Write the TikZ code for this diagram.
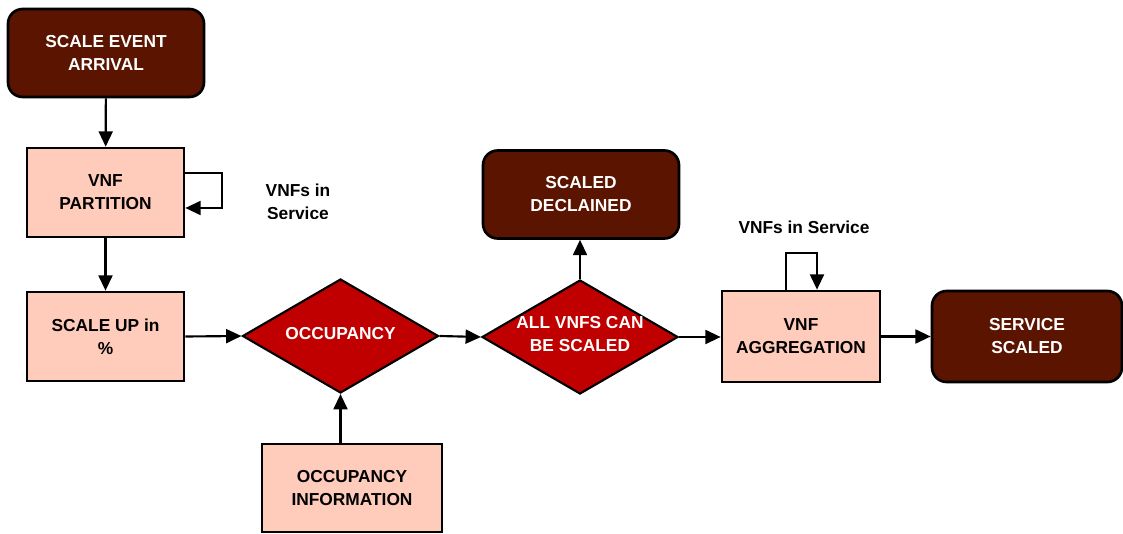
\documentclass[tikz,border=0pt]{standalone}
\usepackage{fontspec}
\setmainfont{Liberation Sans}
\usetikzlibrary{arrows.meta,shapes.geometric}
\definecolor{darkbrown}{HTML}{5A1400}
\definecolor{lightsalmon}{HTML}{FFCBBB}
\definecolor{decred}{HTML}{C00000}
\begin{document}
\begin{tikzpicture}[x=0.75pt,y=-0.75pt,
  every node/.style={font=\fontsize{13pt}{17.25pt}\selectfont\bfseries, align=center},
  terminal/.style={draw=black, line width=2pt, fill=darkbrown, text=white,
    rounded corners=11pt, minimum width=147pt, minimum height=66pt, inner sep=0pt},
  process/.style={draw=black, line width=2pt, fill=lightsalmon, text=black,
    minimum width=117.75pt, minimum height=66.75pt, inner sep=0pt},
  decision/.style={draw=black, line width=1.6pt, fill=decred, diamond, aspect=1.72,
    minimum width=147pt, minimum height=85.5pt, inner sep=0pt},
  flow/.style={draw=black, line width=1.6pt, -{Triangle[length=11.5pt,width=10.5pt]}},
  note/.style={text=black}
]
\useasboundingbox (0,0) rectangle (1123,534);

% nodes
\node[terminal] (start) at (106,53) {SCALE EVENT\\ARRIVAL};
\node[process] (part) at (105.5,192.5) {VNF\\PARTITION};
\node[process] (up) at (105.5,336.5) {SCALE UP in\\\%};
\node[decision,
  label={[text=white,yshift=2pt]center:OCCUPANCY}] (occ) at (340.5,336) {};
\node[process, minimum width=135pt, minimum height=66pt] (info) at (352,488) {OCCUPANCY\\INFORMATION};
\node[decision,
  label={[text=white,yshift=2.5pt]center:ALL VNFS CAN\\BE SCALED}] (all) at (580,337) {};
\node[terminal] (decl) at (581,194.5) {SCALED\\DECLAINED};
\node[process, minimum width=118.5pt, minimum height=68.25pt] (agg) at (801,336.5) {VNF\\AGGREGATION};
\node[terminal, minimum width=142.5pt, minimum height=68.25pt] (done) at (1027,336.5) {SERVICE\\SCALED};

% self-loop labels (the lower line is cut off by its frame)
\begin{scope}
  \clip (240,170) rectangle (360,218.5);
  \node[note] (partnote) at (298,201.5) {VNFs in\\Service};
\end{scope}
\node[note] (aggnote) at (804,227) {VNFs in Service};

% loop corner points
\coordinate (lpa) at (222,173);
\coordinate (lpb) at (222,208);
\coordinate (la) at (786,253);
\coordinate (lb) at (817,253);

% connectors
\draw[flow] (start) -- (part);
\draw[flow] (part) -- (up);
\draw[flow] (up.east) -- (occ.west);
\draw[flow] (info.north -| occ.south) -- (occ.south);
\draw[flow] (occ.east) -- (all.west);
\draw[flow] (all.north) -- (all.north |- decl.south);
\draw[flow] (all.east) -- (agg.west |- all.east);
\draw[flow] (agg.east) -- (done.west);
\draw[flow] (part.east |- lpa) -- (lpa) -- (lpb) -- (part.east |- lpb);
\draw[flow] (la |- agg.north) -- (la) -- (lb) -- (lb |- agg.north);
\end{tikzpicture}
\end{document}
